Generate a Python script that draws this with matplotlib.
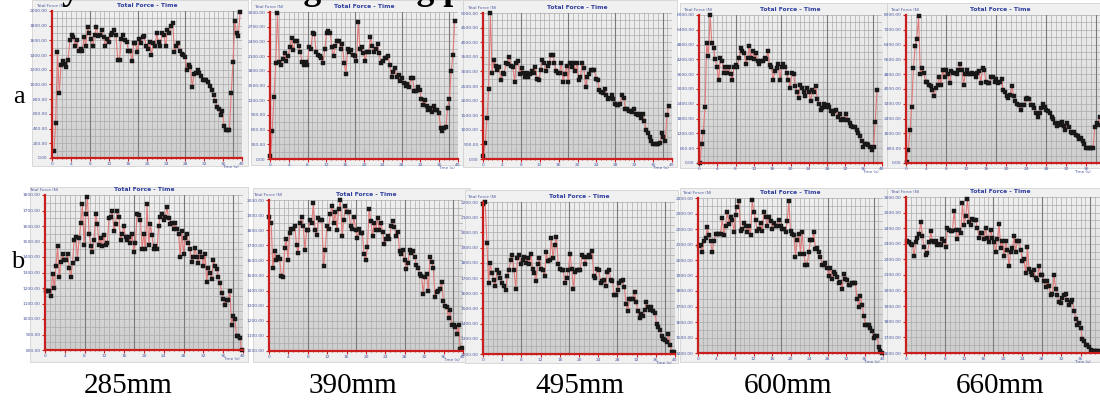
import numpy as np
import matplotlib
matplotlib.use("Agg")
import matplotlib.pyplot as plt
from matplotlib.patches import Rectangle
from matplotlib.colors import LinearSegmentedColormap
from matplotlib.ticker import MultipleLocator, FormatStrFormatter

# column labels (cutting length)
lengths = ["285mm", "390mm", "495mm", "600mm", "660mm"]
rows = ["a", "b"]

# total force readings, row a (N)
force_a285 = [90, 480, 1440, 880, 1260, 1320, 1280, 1240, 1340, 1600, 1680, 1640, 1520, 1600, 1460, 1480,
              1460, 1640, 1520, 1780, 1700, 1620, 1520, 1680, 1780, 1660, 1680, 1740, 1640, 1520, 1620, 1580,
              1680, 1700, 1740, 1680, 1340, 1340, 1620, 1680, 1600, 1580, 1460, 1460, 1320, 1560, 1560, 1440,
              1620, 1560, 1640, 1660, 1520, 1480, 1580, 1400, 1560, 1520, 1700, 1580, 1520, 1700, 1680, 1520,
              1740, 1700, 1800, 1840, 1440, 1520, 1560, 1460, 1420, 1400, 1380, 1200, 1260, 1240, 960, 1140,
              1160, 1200, 1160, 1120, 1060, 1060, 1060, 1040, 980, 920, 860, 780, 700, 660, 580, 640, 440, 380,
              380, 380, 880, 1300, 1860, 1700, 1660, 1980]
force_a390 = [60, 570, 1260, 1950, 2970, 1980, 1920, 2040, 2160, 2010, 2100, 2280, 2460, 2220, 2400, 2400,
              2310, 2190, 1980, 1920, 1980, 1920, 2280, 2250, 2580, 2550, 2190, 2130, 2100, 2070, 1950, 2250,
              2580, 2610, 2580, 2280, 2100, 2310, 2400, 2400, 2250, 2340, 1950, 1740, 2250, 2190, 2220, 2130,
              2100, 2010, 2790, 2250, 2280, 2160, 2010, 2190, 2190, 2490, 2310, 2190, 2250, 2340, 2160, 1950,
              2010, 2070, 2070, 2100, 1920, 1680, 1770, 1860, 1680, 1710, 1590, 1650, 1560, 1500, 1530, 1470,
              1650, 1650, 1380, 1380, 1470, 1410, 1230, 1110, 1200, 1080, 990, 1050, 960, 1080, 990, 990, 930,
              630, 570, 630, 660, 1050, 1230, 1800, 2130, 2820]
force_a495 = [100, 550, 1400, 2400, 5000, 2950, 3400, 3200, 3050, 3150, 2700, 2950, 2900, 3300, 3250, 3500,
              3200, 3150, 2650, 3300, 3350, 2900, 3100, 2950, 2800, 2950, 2800, 2900, 3000, 2950, 3150, 2750,
              2700, 3050, 3400, 3300, 3000, 3200, 3300, 3550, 3550, 3300, 3000, 2950, 2950, 3300, 2650, 2900,
              3200, 2650, 3300, 3150, 3300, 3000, 3300, 2700, 2800, 3300, 3100, 2450, 2800, 2900, 3050, 3050,
              3050, 2750, 2700, 2350, 2300, 2250, 2400, 2200, 2050, 2100, 2200, 2050, 1900, 1850, 1850, 1900,
              2200, 2100, 1700, 1700, 1650, 1650, 1600, 1700, 1550, 1500, 1550, 1400, 1550, 1300, 1000, 900,
              750, 600, 500, 500, 500, 500, 550, 900, 750, 600, 1500, 1800]
force_a600 = [0, 780, 1260, 2280, 4860, 4320, 6000, 4860, 4680, 4200, 3900, 3360, 4260, 4140, 3660, 3900,
              3660, 3900, 3600, 3360, 3900, 3960, 3900, 4260, 4680, 4560, 4440, 4020, 4260, 4740, 4260, 4560,
              4200, 4440, 4140, 4020, 4140, 4140, 4260, 4200, 4560, 3960, 3900, 3360, 3720, 3840, 4020, 3360,
              3900, 4020, 3900, 3660, 3360, 3060, 3660, 3600, 3120, 2880, 2640, 3180, 3060, 2880, 2700, 3060,
              2880, 2520, 2940, 2880, 3120, 2580, 2400, 2160, 2220, 2400, 2280, 2340, 2280, 2100, 1980, 2100,
              2160, 1860, 1980, 1740, 1800, 1740, 1980, 1740, 1620, 1500, 1440, 1440, 1320, 1200, 1080, 900,
              660, 780, 780, 720, 660, 540, 660, 1680, 2940]
force_a660 = [80, 720, 1760, 3040, 5120, 6320, 6720, 7920, 4800, 5120, 4880, 4400, 4400, 4240, 4160, 3920,
              3600, 4080, 4240, 4640, 4240, 5040, 4640, 5040, 4800, 4320, 4960, 4880, 4880, 4800, 5040, 5360,
              5040, 4240, 4800, 5040, 4800, 4800, 4880, 4800, 4640, 4880, 4960, 4320, 5120, 5040, 4400, 4320,
              4320, 4640, 4640, 4400, 4560, 4320, 4400, 4560, 3920, 3840, 3600, 3520, 3680, 4160, 3600, 3360,
              3200, 3120, 2880, 3120, 3120, 3440, 3520, 3440, 3120, 3120, 2960, 2720, 2480, 2720, 2960, 3200,
              3040, 2880, 2800, 2720, 2480, 2400, 2160, 2000, 2160, 2080, 2240, 2000, 1760, 2160, 1920, 1680,
              1600, 1680, 1520, 1440, 1280, 1360, 1200, 1040, 800, 800, 800, 800, 800, 1920, 2160, 2080, 2480]

# total force readings, row b (N)
force_b285 = [1180, 1180, 1180, 1150, 1290, 1200, 1340, 1470, 1270, 1370, 1420, 1380, 1380, 1420, 1330, 1270,
              1360, 1510, 1530, 1390, 1520, 1620, 1740, 1480, 1680, 1790, 1550, 1470, 1430, 1510, 1680, 1610,
              1480, 1520, 1470, 1540, 1480, 1490, 1650, 1660, 1700, 1570, 1610, 1700, 1660, 1510, 1550, 1600,
              1530, 1510, 1530, 1490, 1550, 1430, 1490, 1680, 1670, 1640, 1450, 1550, 1450, 1740, 1480, 1610,
              1540, 1450, 1470, 1450, 1600, 1660, 1680, 1640, 1660, 1720, 1650, 1610, 1620, 1580, 1620, 1580,
              1550, 1400, 1570, 1420, 1520, 1550, 1490, 1450, 1370, 1400, 1460, 1400, 1360, 1430, 1400, 1340,
              1420, 1240, 1330, 1300, 1260, 1380, 1340, 1320, 1270, 1230, 1170, 1130, 1090, 1120, 1120, 1180,
              960, 1020, 1000, 890, 890, 880, 800]
force_b390 = [1890, 1850, 1550, 1660, 1600, 1620, 1610, 1500, 1490, 1680, 1740, 1600, 1780, 1810, 1810, 1830,
              1700, 1650, 1850, 1890, 1830, 1670, 1800, 1800, 1870, 1850, 1980, 1800, 1770, 1880, 1870, 1870,
              1560, 1670, 1830, 1810, 1910, 1960, 1850, 1920, 1800, 1940, 2000, 1760, 1870, 1960, 1920, 1920,
              1830, 1810, 1890, 1800, 1750, 1810, 1780, 1780, 1640, 1600, 1690, 1940, 1860, 1760, 1850, 1800,
              1880, 1800, 1850, 1790, 1710, 1740, 1760, 1740, 1830, 1860, 1820, 1760, 1790, 1660, 1640, 1670,
              1600, 1540, 1580, 1670, 1650, 1660, 1620, 1570, 1550, 1510, 1500, 1380, 1490, 1510, 1400, 1620,
              1590, 1550, 1360, 1390, 1400, 1410, 1460, 1330, 1300, 1290, 1220, 1270, 1170, 1170, 1160, 1110,
              1170, 1010, 1020]
force_b495 = [2190, 2200, 1930, 1670, 1800, 1730, 1690, 1650, 1750, 1730, 1700, 1670, 1650, 1620, 1710, 1750,
              1820, 1850, 1750, 1630, 1830, 1850, 1790, 1820, 1840, 1800, 1830, 1790, 1860, 1760, 1730, 1680,
              1790, 1830, 1760, 1750, 1710, 1870, 1810, 1820, 1960, 1830, 1920, 1970, 1790, 1760, 1750, 1750,
              1670, 1700, 1750, 1860, 1760, 1630, 1740, 1750, 1750, 1750, 1850, 1840, 1790, 1840, 1850, 1840,
              1880, 1710, 1700, 1760, 1750, 1670, 1680, 1690, 1650, 1740, 1750, 1690, 1680, 1590, 1590, 1620,
              1670, 1680, 1690, 1640, 1530, 1480, 1560, 1560, 1560, 1610, 1540, 1480, 1440, 1460, 1450, 1490,
              1540, 1510, 1490, 1510, 1480, 1470, 1400, 1380, 1360, 1320, 1300, 1290, 1280, 1330, 1260, 1210,
              1210]
force_b600 = [2090, 2100, 2050, 2120, 2140, 2210, 2160, 2120, 2050, 2120, 2170, 2170, 2170, 2170, 2270, 2160,
              2220, 2310, 2230, 2280, 2260, 2180, 2290, 2340, 2380, 2190, 2200, 2240, 2220, 2180, 2220, 2160,
              2390, 2310, 2260, 2190, 2200, 2240, 2190, 2310, 2280, 2220, 2280, 2250, 2200, 2240, 2220, 2220,
              2260, 2220, 2200, 2200, 2180, 2250, 2380, 2190, 2170, 2160, 2020, 2130, 2170, 2040, 2180, 2040,
              1970, 1970, 2050, 2130, 2130, 2180, 2070, 2080, 2050, 2020, 1970, 1970, 1980, 1950, 1900, 1950,
              1880, 1920, 1910, 1890, 1850, 1860, 1810, 1910, 1880, 1870, 1840, 1840, 1850, 1850, 1850, 1750,
              1700, 1770, 1710, 1640, 1580, 1580, 1580, 1560, 1540, 1500, 1510, 1510, 1440, 1410, 1400]
force_b660 = [2320, 2310, 2300, 2290, 2220, 2310, 2340, 2360, 2440, 2350, 2280, 2230, 2240, 2310, 2380, 2320,
              2310, 2320, 2290, 2300, 2290, 2330, 2320, 2280, 2400, 2390, 2380, 2380, 2510, 2390, 2330, 2390,
              2370, 2560, 2420, 2480, 2590, 2440, 2420, 2460, 2450, 2450, 2400, 2340, 2370, 2370, 2330, 2400,
              2340, 2310, 2390, 2340, 2310, 2250, 2330, 2430, 2270, 2320, 2220, 2320, 2260, 2160, 2250, 2270,
              2350, 2250, 2320, 2320, 2260, 2190, 2200, 2110, 2280, 2140, 2120, 2100, 2130, 2080, 2070, 2160,
              2100, 2100, 2060, 2020, 2060, 2030, 1970, 1980, 2100, 2010, 1970, 1930, 1920, 1950, 1970, 1980,
              1940, 1910, 1930, 1940, 1870, 1820, 1780, 1790, 1760, 1690, 1680, 1650, 1650, 1640, 1620, 1610,
              1610, 1610, 1610, 1610]

# first / last sample time of each record (s)
t_first_a = [0.4, 0.1, 0.1, 0.2, 0.1]
t_last_a = [39.6, 39.3, 39.3, 38.9, 38.8]
t_first_b = [0.2, 0.1, 0.1, 0.2, 0.3]
t_last_b = [39.7, 39.8, 39.7, 39.8, 39.8]

# y-axis ranges (N)
ymin_a = [0, 0, 0, 0, 0]
ymax_a = [2000, 3000, 5000, 6000, 8000]
ymin_b = [800, 1000, 1200, 1400, 1600]
ymax_b = [1800, 2000, 2200, 2400, 2600]

W, H = 1100, 403

# plot areas and window frames in pixels (left, top, right, bottom)
plot_a = [(52, 11, 242, 158), (270, 12, 458, 159), (483, 13, 672, 159), (699, 15, 882, 163), (906, 15, 1106, 163)]
plot_b = [(45, 195, 243, 350), (269, 200, 463, 351), (483, 202, 675, 354), (698, 198, 883, 353), (906, 197, 1100, 353)]
frame_a = [(32, 0, 248, 166), (251, 0, 463, 165), (463, 0, 677, 167), (680, 3, 887, 168), (887, 3, 1100, 168)]
frame_b = [(30, 187, 248, 362), (253, 188, 470, 362), (465, 190, 678, 363), (680, 188, 887, 362), (887, 188, 1100, 362)]


def fbox(l, t, r, b):
    return [l / W, 1 - b / H, (r - l) / W, (b - t) / H]


fig = plt.figure(figsize=(11, 4.03), dpi=100)
fig.patch.set_facecolor("white")

bg = LinearSegmentedColormap.from_list("bg", ["#cecece", "#efefef"])
grad = np.linspace(0, 1, 64).reshape(-1, 1)
red = "#c81e1e"
blue = "#2f3f9e"


def panel(force, t0, t1, y0, y1, pbox, frame):
    l, t, r, b = frame
    fig.add_artist(Rectangle((l / W, 1 - b / H), (r - l) / W, (b - t) / H, transform=fig.transFigure,
                             fc="#f0f0f0", ec="#d2d2d2", lw=0.6, zorder=-1))
    ax = fig.add_axes(fbox(*pbox))
    ax.imshow(grad, extent=(0, 1, 0, 1), transform=ax.transAxes, origin="lower", aspect="auto",
              cmap=bg, interpolation="bilinear", zorder=0)
    tt = np.linspace(t0, t1, len(force))
    ax.plot(tt, force, "-", color="#e07a7a", lw=0.8, zorder=3, clip_on=False)
    ax.plot(tt, force, "s", ms=2.4, mfc="#1a1a1a", mec="#111111", mew=0.3, zorder=4, clip_on=False)
    step = (y1 - y0) / 10
    ax.set_xlim(0, 40)
    ax.set_ylim(y0, y1)
    pl, pt, pr, pb = pbox
    # the last window is cut by the picture edge, so its last time label is not shown
    if pr >= W - 2:
        ax.set_xticks(np.arange(0, 37, 4))
    else:
        ax.xaxis.set_major_locator(MultipleLocator(4))
    ax.xaxis.set_minor_locator(MultipleLocator(1))
    ax.yaxis.set_major_locator(MultipleLocator(step))
    ax.yaxis.set_minor_locator(MultipleLocator(step / 2))
    ax.yaxis.set_major_formatter(FormatStrFormatter("%.2f"))
    ax.xaxis.set_major_formatter(FormatStrFormatter("%g"))
    ax.set_axisbelow(True)
    ax.grid(which="both", color="#ababab", lw=0.5)
    for xv in [8, 18, 28, 38]:
        ax.axvline(xv, color="#7a7a7a", lw=0.8, zorder=1)
    for s in ["top", "right"]:
        ax.spines[s].set_visible(False)
    for s in ["left", "bottom"]:
        ax.spines[s].set_color(red)
        ax.spines[s].set_linewidth(1.6)
        ax.spines[s].set_zorder(5)
    ax.tick_params(which="major", direction="out", length=2, width=0.8, color=red,
                   labelsize=3.2, labelcolor="#4a58a0", pad=1)
    ax.tick_params(which="minor", direction="out", length=1, width=0.6, color=red)
    right = min(pr, W - 6)
    fig.text(((pl + right) / 2) / W, 1 - (pt - 3) / H, "Total Force - Time", ha="center", va="bottom",
             fontsize=4.3, fontweight="bold", color=blue)
    fig.text((pl - 16) / W, 1 - (pt - 3) / H, "Total Force (N)", ha="left", va="bottom",
             fontsize=3, color="#4a58a0")
    fig.text((right - 20) / W, 1 - (pb + 7) / H, "Time (s)", ha="left", va="top",
             fontsize=3, color="#4a58a0")
    return ax


series_a = [force_a285, force_a390, force_a495, force_a600, force_a660]
series_b = [force_b285, force_b390, force_b495, force_b600, force_b660]

for i in range(5):
    panel(series_a[i], t_first_a[i], t_last_a[i], ymin_a[i], ymax_a[i], plot_a[i], frame_a[i])
    panel(series_b[i], t_first_b[i], t_last_b[i], ymin_b[i], ymax_b[i], plot_b[i], frame_b[i])

# row and column labels
fig.text(19 / W, 1 - 97 / H, rows[0], ha="center", va="center", fontsize=19, family="Liberation Serif")
fig.text(18 / W, 1 - 262 / H, rows[1], ha="center", va="center", fontsize=19, family="Liberation Serif")
for x, lab in zip([128, 353, 580, 788, 1000], lengths):
    fig.text(x / W, 1 - 386 / H, lab, ha="center", va="center", fontsize=21, family="Liberation Serif")

# heading of the page, cut off by the top edge
fig.text(-43 / W, 1 + 1 / H, "stability of the surface grinding process", ha="left", va="baseline",
         fontsize=25.7, fontweight="bold", family="Liberation Serif", color="black", zorder=10)

fig.savefig("out.png", dpi=100)
